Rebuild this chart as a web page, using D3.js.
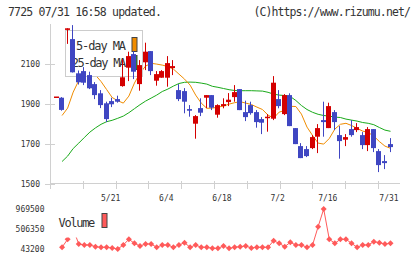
<!DOCTYPE html>
<html>
<head>
<meta charset="utf-8">
<script src="https://cdn.jsdelivr.net/npm/d3@7"></script>
<style>
body { margin: 0; background: #fff; }
text { font-family: "DejaVu Sans Mono", monospace; fill: #333; }
</style>
</head>
<body>
<script>
// trading days 5/7 .. 7/31
var dates = ["5/7","5/8","5/9","5/10","5/13","5/14","5/15","5/16","5/17","5/20",
 "5/21","5/22","5/23","5/24","5/27","5/28","5/29","5/30","5/31","6/3",
 "6/4","6/5","6/6","6/7","6/10","6/11","6/12","6/13","6/14","6/17",
 "6/18","6/19","6/20","6/21","6/24","6/25","6/26","6/27","6/28","7/1",
 "7/2","7/3","7/4","7/5","7/8","7/9","7/10","7/11","7/12","7/16",
 "7/17","7/18","7/19","7/22","7/23","7/24","7/25","7/26","7/29","7/30","7/31"];
var tickDates = ["5/21","6/4","6/18","7/2","7/16","7/31"];
var priceTicks = [1500, 1700, 1900, 2100];
var volTicks = [43200, 506350, 969500];

var open  = [1935,1929,2268,2222,2051,2062,2042,1997,1951,1901,1912,1922,1987,2079,2147,1997,2106,2162,2014,2029,
 2029,2077,1967,1962,1872,1799,1877,1929,1942,1844,1887,1907,1932,1972,1857,1892,1857,1822,1829,1824,
 1922,1847,1942,1777,1687,1672,1677,1734,1817,1777,1857,1742,1719,1772,1767,1742,1692,1772,1662,1612,1697];
var high  = [1935,1932,2276,2292,2065,2082,2059,2007,1967,1909,1929,1939,2121,2159,2162,2117,2204,2162,2062,2067,
 2137,2117,1997,1977,1892,1842,1926,1942,1942,1896,1926,1952,1992,1972,1914,1909,1867,1832,1847,2037,
 1967,1947,1951,1777,1702,1687,1742,1797,1909,1904,1867,1787,1747,1817,1802,1757,1782,1772,1672,1642,1727];
var low   = [1935,1864,2198,2055,1995,1992,1972,1922,1877,1807,1882,1904,1984,2012,2022,1964,2067,2042,1989,2029,
 1984,2042,1912,1851,1834,1724,1837,1877,1867,1829,1876,1887,1909,1867,1812,1844,1779,1747,1759,1817,
 1876,1842,1787,1697,1627,1632,1672,1652,1734,1777,1767,1624,1687,1734,1757,1672,1662,1657,1557,1572,1657];
var close = [1935,1868,2276,2056,2006,2004,1976,1942,1892,1822,1896,1909,2031,2137,2059,2092,2159,2062,2047,2062,
 2102,2087,1922,1909,1864,1837,1854,1942,1879,1892,1897,1919,1957,1867,1832,1852,1807,1804,1834,2004,
 1887,1942,1787,1697,1627,1637,1732,1777,1807,1887,1807,1712,1732,1742,1782,1692,1772,1677,1592,1602,1682];

var ma5  = [null,1840,1877,1957,2015,2042,2052,2042,2010,1970,1930,1914,1902,1937,2002,2052,2087,2101,2097,2092,
 2085,2072,2047,2022,1992,1942,1902,1876,1877,1882,1887,1897,1904,1909,1902,1895,1882,1870,1842,1827,
 1857,1865,1886,1885,1847,1782,1740,1702,1697,1725,1772,1796,1801,1790,1776,1762,1755,1737,1710,1687,1676];
var ma25 = [null,1610,1637,1675,1702,1730,1757,1778,1796,1809,1816,1826,1837,1854,1874,1894,1912,1927,1942,1960,
 1972,1987,2000,2006,2007,2006,2002,1997,1986,1981,1975,1969,1965,1964,1964,1964,1963,1962,1956,1947,
 1942,1940,1935,1915,1890,1870,1856,1846,1840,1837,1832,1830,1822,1817,1812,1805,1801,1794,1780,1767,1761];

var volume = [null,83000,268000,500000,159000,136000,136000,97000,83000,83000,66000,43200,136000,268000,175000,113000,159000,159000,83000,136000,
 136000,83000,136000,189000,83000,136000,83000,83000,59000,59000,113000,59000,83000,97000,113000,66000,83000,83000,83000,235000,
 175000,97000,198000,136000,136000,83000,136000,560000,969500,268000,175000,268000,268000,175000,83000,136000,136000,212000,189000,159000,175000];

var W = 420, H = 259;
var up = "#d40000", down = "#3f46c2", volColor = "#ff5a5a";

var svg = d3.select("body").append("svg")
 .attr("width", W)
 .attr("height", H);

var x = d3.scalePoint().domain(dates).range([56.5, 390.5]);
var y = d3.scaleLinear().domain([1500, 2300]).range([183.5, 23.5]);
var yv = d3.scaleLinear().domain([43200, 969500]).range([249, 209]);

// header
svg.append("text").attr("x", 8).attr("y", 16).attr("font-size", "11.5px")
 .attr("letter-spacing", "-0.8").text("7725 07/31 16:58 updated.");
svg.append("text").attr("x", 410).attr("y", 16).attr("font-size", "11.5px")
 .attr("letter-spacing", "-0.9").attr("text-anchor", "end").text("(C)https://www.rizumu.net/");

// axes
var grid = svg.append("g").attr("stroke", "#d0d0d0").attr("stroke-width", 1);
grid.append("line").attr("x1", 50.5).attr("x2", 50.5).attr("y1", 24).attr("y2", 184);
grid.append("line").attr("x1", 50).attr("x2", 400).attr("y1", 183.5).attr("y2", 183.5);
grid.selectAll("line.yt").data(priceTicks).enter().append("line")
 .attr("x1", 45).attr("x2", 55)
 .attr("y1", function(d){ return Math.round(y(d)) + 0.5; })
 .attr("y2", function(d){ return Math.round(y(d)) + 0.5; });
grid.selectAll("line.xt").data(d3.range(0, 11)).enter().append("line")
 .attr("x1", function(d){ return Math.round(50 + d * 32.8) + 0.5; })
 .attr("x2", function(d){ return Math.round(50 + d * 32.8) + 0.5; })
 .attr("y1", 181).attr("y2", 189);

svg.selectAll("text.yl").data(priceTicks).enter().append("text")
 .attr("x", 40).attr("y", function(d){ return y(d) + 3; })
 .attr("text-anchor", "end").attr("font-size", "8px")
 .text(function(d){ return d; });

svg.selectAll("text.xl").data(tickDates).enter().append("text")
 .attr("x", function(d){ return x(d) - 1.5; }).attr("y", 201)
 .attr("text-anchor", "middle").attr("font-size", "8px")
 .text(function(d){ return d; });

svg.selectAll("text.vl").data(volTicks).enter().append("text")
 .attr("x", 44.5).attr("y", function(d){ return yv(d) + 3; })
 .attr("text-anchor", "end").attr("font-size", "8px")
 .text(function(d){ return d; });

// moving averages
function maLine(arr) {
 return d3.line()
  .defined(function(d){ return d != null; })
  .x(function(d, i){ return x(dates[i]); })
  .y(function(d){ return y(d); })(arr);
}
svg.append("path").attr("d", maLine(ma25)).attr("fill", "none")
 .attr("stroke", "#1aaa1a").attr("stroke-width", 1);
svg.append("path").attr("d", maLine(ma5)).attr("fill", "none")
 .attr("stroke", "#f08c00").attr("stroke-width", 1);

// legend (candles are drawn over it)
svg.append("rect").attr("x", 65.5).attr("y", 30.5).attr("width", 77).attr("height", 46)
 .attr("fill", "#fff").attr("stroke", "#cccccc");
svg.append("text").attr("x", 125).attr("y", 50).attr("text-anchor", "end")
 .attr("font-size", "12px").attr("letter-spacing", "-1.1").text("5-day MA");
svg.append("text").attr("x", 125).attr("y", 67).attr("text-anchor", "end")
 .attr("font-size", "12px").attr("letter-spacing", "-1.3").text("25-day MA");
svg.append("rect").attr("x", 132).attr("y", 37.5).attr("width", 5).attr("height", 14)
 .attr("fill", "#f08c00").attr("stroke", "#444");
svg.append("rect").attr("x", 132).attr("y", 55.5).attr("width", 5).attr("height", 14)
 .attr("fill", "#1aaa1a").attr("stroke", "#444");

// candles
var candles = svg.selectAll("g.candle").data(dates).enter().append("g");
candles.append("line")
 .attr("x1", function(d){ return Math.round(x(d)) - 0.5; })
 .attr("x2", function(d){ return Math.round(x(d)) - 0.5; })
 .attr("y1", function(d, i){ return y(high[i]); })
 .attr("y2", function(d, i){ return y(low[i]); })
 .attr("stroke", function(d, i){ return close[i] >= open[i] ? up : down; });
candles.append("rect")
 .attr("x", function(d){ return Math.round(x(d)) - 3; })
 .attr("width", 5)
 .attr("y", function(d, i){ return y(Math.max(open[i], close[i])); })
 .attr("height", function(d, i){ return Math.max(1.5, Math.abs(y(open[i]) - y(close[i]))); })
 .attr("fill", function(d, i){ return close[i] >= open[i] ? up : down; });

// volume
var vline = d3.line()
 .defined(function(d){ return d != null; })
 .x(function(d, i){ return x(dates[i]); })
 .y(function(d){ return yv(d); });
svg.append("path").attr("d", vline(volume)).attr("fill", "none")
 .attr("stroke", volColor).attr("stroke-width", 1);
volume.forEach(function(v, i) {
 if (v == null) return;
 svg.append("path")
  .attr("d", d3.symbol(d3.symbolSquare, 18)())
  .attr("transform", "translate(" + x(dates[i]) + "," + yv(v) + ") rotate(45)")
  .attr("fill", volColor);
});
// volume legend box hides what lies under it
svg.append("rect").attr("x", 54).attr("y", 210).attr("width", 58).attr("height", 27.5)
 .attr("fill", "#fff");
svg.append("text").attr("x", 58.5).attr("y", 226.5).attr("font-size", "12px")
 .attr("letter-spacing", "-1.3").text("Volume");
svg.append("rect").attr("x", 102).attr("y", 213.5).attr("width", 5).attr("height", 14)
 .attr("fill", volColor).attr("stroke", "#444");
</script>
</body>
</html>
